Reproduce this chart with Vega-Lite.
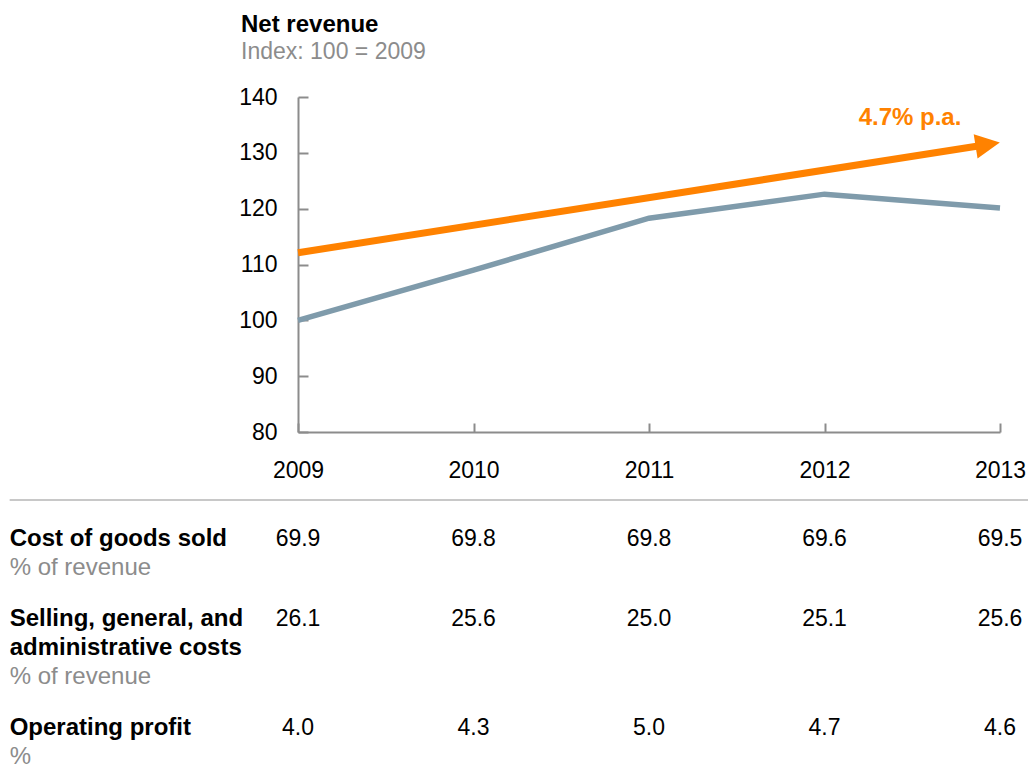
{
  "$schema": "https://vega.github.io/schema/vega-lite/v6.json",
  "padding": {"left": 8, "top": 13, "right": 0, "bottom": 0},
  "spacing": 22,
  "config": {
    "view": {"stroke": null, "discreteHeight": {"step": 29}},
    "font": "Liberation Sans",
    "text": {"font": "Liberation Sans"},
    "title": {"font": "Liberation Sans", "subtitleFont": "Liberation Sans"}
  },
  "datasets": {
    "revenue": [
      {"year": 2009, "index": 100},
      {"year": 2010, "index": 109},
      {"year": 2011, "index": 118.3},
      {"year": 2012, "index": 122.6},
      {"year": 2013, "index": 120.1}
    ],
    "trend": [
      {"year": 2009, "index": 112.1},
      {"year": 2012.93, "index": 131.5}
    ],
    "annotation": [{"label": "4.7% p.a."}],
    "labels": [
      {"metric": "cogs", "line": 1, "kind": "name", "text": "Cost of goods sold"},
      {"metric": "cogs", "line": 2, "kind": "unit", "text": "% of revenue"},
      {"metric": "sga", "line": 1, "kind": "name", "text": "Selling, general, and"},
      {"metric": "sga", "line": 2, "kind": "name", "text": "administrative costs"},
      {"metric": "sga", "line": 3, "kind": "unit", "text": "% of revenue"},
      {"metric": "op", "line": 1, "kind": "name", "text": "Operating profit"},
      {"metric": "op", "line": 2, "kind": "unit", "text": "%"}
    ],
    "table": [
      {"metric": "cogs", "year": 2009, "value": 69.9},
      {"metric": "cogs", "year": 2010, "value": 69.8},
      {"metric": "cogs", "year": 2011, "value": 69.8},
      {"metric": "cogs", "year": 2012, "value": 69.6},
      {"metric": "cogs", "year": 2013, "value": 69.5},
      {"metric": "sga", "year": 2009, "value": 26.1},
      {"metric": "sga", "year": 2010, "value": 25.6},
      {"metric": "sga", "year": 2011, "value": 25.0},
      {"metric": "sga", "year": 2012, "value": 25.1},
      {"metric": "sga", "year": 2013, "value": 25.6},
      {"metric": "op", "year": 2009, "value": 4.0},
      {"metric": "op", "year": 2010, "value": 4.3},
      {"metric": "op", "year": 2011, "value": 5.0},
      {"metric": "op", "year": 2012, "value": 4.7},
      {"metric": "op", "year": 2013, "value": 4.6}
    ]
  },
  "vconcat": [
    {
      "width": 702,
      "height": 335,
      "title": {
        "text": "Net revenue",
        "subtitle": "Index: 100 = 2009",
        "anchor": "start",
        "frame": "group",
        "dx": -57,
        "fontSize": 24,
        "fontWeight": "bold",
        "color": "#000000",
        "subtitleFontSize": 23,
        "subtitleColor": "#8c8c8c",
        "subtitlePadding": 4,
        "offset": 22
      },
      "layer": [
        {
          "data": {"name": "revenue"},
          "mark": {"type": "line", "color": "#7f9bab", "strokeWidth": 5.5},
          "encoding": {
            "x": {
              "field": "year", "type": "quantitative",
              "scale": {"domain": [2009, 2013], "nice": false, "zero": false},
              "axis": {
                "values": [2009, 2010, 2011, 2012, 2013], "format": "d", "title": null, "grid": false,
                "labelFontSize": 23, "labelColor": "#000000", "labelPadding": 36, "labelFlush": false,
                "tickSize": -9, "tickWidth": 2, "tickColor": "#8c8c8c",
                "domainColor": "#8c8c8c", "domainWidth": 2
              }
            },
            "y": {
              "field": "index", "type": "quantitative",
              "scale": {"domain": [80, 140], "nice": false, "zero": false},
              "axis": {
                "values": [80, 90, 100, 110, 120, 130, 140], "title": null, "grid": false,
                "labelFontSize": 23, "labelColor": "#000000", "labelPadding": 31, "labelFlush": false,
                "tickSize": -10, "tickWidth": 2, "tickColor": "#8c8c8c",
                "domainColor": "#8c8c8c", "domainWidth": 2
              }
            }
          }
        },
        {
          "data": {"name": "trend"},
          "mark": {"type": "line", "color": "#ff8200", "strokeWidth": 7},
          "encoding": {
            "x": {"field": "year", "type": "quantitative"},
            "y": {"field": "index", "type": "quantitative"}
          }
        },
        {
          "data": {"name": "trend"},
          "transform": [{"filter": "datum.year > 2010"}],
          "mark": {"type": "point", "shape": "M-1,-1L1,0L-1,1Z", "filled": true, "color": "#ff8200", "opacity": 1, "size": 600, "angle": -9},
          "encoding": {
            "x": {"field": "year", "type": "quantitative"},
            "y": {"field": "index", "type": "quantitative"}
          }
        },
        {
          "data": {"name": "annotation"},
          "mark": {"type": "text", "align": "right", "baseline": "alphabetic", "fontSize": 24, "fontWeight": "bold", "color": "#ff8200"},
          "encoding": {
            "x": {"datum": 2012.78, "type": "quantitative"},
            "y": {"datum": 135, "type": "quantitative"},
            "text": {"field": "label"}
          }
        },
        {
          "data": {"name": "annotation"},
          "mark": {"type": "rule", "color": "#c8c8c8", "strokeWidth": 2},
          "encoding": {
            "x": {"datum": 2007.357, "type": "quantitative"},
            "x2": {"datum": 2013.16},
            "y": {"datum": 67.8, "type": "quantitative"}
          }
        }
      ]
    },
    {
      "width": 702,
      "layer": [
        {
          "data": {"name": "labels"},
          "transform": [{"filter": "datum.metric === 'cogs' && datum.kind === 'name'"}],
          "mark": {"type": "text", "align": "left", "baseline": "middle", "fontSize": 24, "fontWeight": "bold", "color": "#000000"},
          "encoding": {
            "x": {"datum": 2007.357, "type": "quantitative", "scale": {"domain": [2009, 2013], "nice": false, "zero": false}, "axis": null},
            "y": {"field": "line", "type": "ordinal", "axis": null},
            "text": {"field": "text"}
          }
        },
        {
          "data": {"name": "labels"},
          "transform": [{"filter": "datum.metric === 'cogs' && datum.kind === 'unit'"}],
          "mark": {"type": "text", "align": "left", "baseline": "middle", "fontSize": 24, "color": "#8c8c8c"},
          "encoding": {
            "x": {"datum": 2007.357, "type": "quantitative"},
            "y": {"field": "line", "type": "ordinal"},
            "text": {"field": "text"}
          }
        },
        {
          "data": {"name": "table"},
          "transform": [{"filter": "datum.metric === 'cogs'"}],
          "mark": {"type": "text", "align": "center", "baseline": "middle", "fontSize": 23, "color": "#000000"},
          "encoding": {
            "x": {"field": "year", "type": "quantitative"},
            "y": {"datum": 1, "type": "ordinal"},
            "text": {"field": "value", "type": "quantitative", "format": ".1f"}
          }
        }
      ]
    },
    {
      "width": 702,
      "layer": [
        {
          "data": {"name": "labels"},
          "transform": [{"filter": "datum.metric === 'sga' && datum.kind === 'name'"}],
          "mark": {"type": "text", "align": "left", "baseline": "middle", "fontSize": 24, "fontWeight": "bold", "color": "#000000"},
          "encoding": {
            "x": {"datum": 2007.357, "type": "quantitative", "scale": {"domain": [2009, 2013], "nice": false, "zero": false}, "axis": null},
            "y": {"field": "line", "type": "ordinal", "axis": null},
            "text": {"field": "text"}
          }
        },
        {
          "data": {"name": "labels"},
          "transform": [{"filter": "datum.metric === 'sga' && datum.kind === 'unit'"}],
          "mark": {"type": "text", "align": "left", "baseline": "middle", "fontSize": 24, "color": "#8c8c8c"},
          "encoding": {
            "x": {"datum": 2007.357, "type": "quantitative"},
            "y": {"field": "line", "type": "ordinal"},
            "text": {"field": "text"}
          }
        },
        {
          "data": {"name": "table"},
          "transform": [{"filter": "datum.metric === 'sga'"}],
          "mark": {"type": "text", "align": "center", "baseline": "middle", "fontSize": 23, "color": "#000000"},
          "encoding": {
            "x": {"field": "year", "type": "quantitative"},
            "y": {"datum": 1, "type": "ordinal"},
            "text": {"field": "value", "type": "quantitative", "format": ".1f"}
          }
        }
      ]
    },
    {
      "width": 702,
      "layer": [
        {
          "data": {"name": "labels"},
          "transform": [{"filter": "datum.metric === 'op' && datum.kind === 'name'"}],
          "mark": {"type": "text", "align": "left", "baseline": "middle", "fontSize": 24, "fontWeight": "bold", "color": "#000000"},
          "encoding": {
            "x": {"datum": 2007.357, "type": "quantitative", "scale": {"domain": [2009, 2013], "nice": false, "zero": false}, "axis": null},
            "y": {"field": "line", "type": "ordinal", "axis": null},
            "text": {"field": "text"}
          }
        },
        {
          "data": {"name": "labels"},
          "transform": [{"filter": "datum.metric === 'op' && datum.kind === 'unit'"}],
          "mark": {"type": "text", "align": "left", "baseline": "middle", "fontSize": 24, "color": "#8c8c8c"},
          "encoding": {
            "x": {"datum": 2007.357, "type": "quantitative"},
            "y": {"field": "line", "type": "ordinal"},
            "text": {"field": "text"}
          }
        },
        {
          "data": {"name": "table"},
          "transform": [{"filter": "datum.metric === 'op'"}],
          "mark": {"type": "text", "align": "center", "baseline": "middle", "fontSize": 23, "color": "#000000"},
          "encoding": {
            "x": {"field": "year", "type": "quantitative"},
            "y": {"datum": 1, "type": "ordinal"},
            "text": {"field": "value", "type": "quantitative", "format": ".1f"}
          }
        }
      ]
    }
  ]
}
